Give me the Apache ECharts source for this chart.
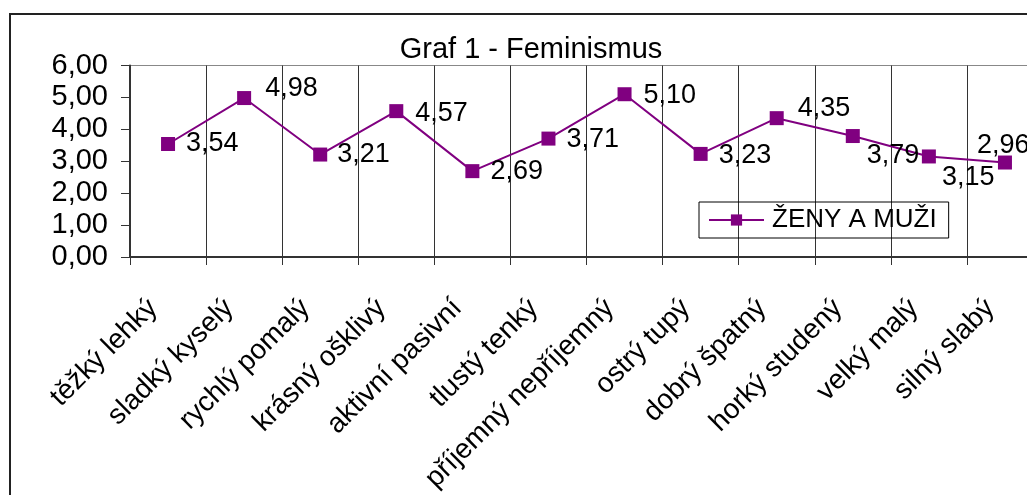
<!DOCTYPE html>
<html>
<head>
<meta charset="utf-8">
<script src="https://cdn.jsdelivr.net/npm/echarts@6/dist/echarts.min.js"></script>
<style>
html,body{margin:0;padding:0;background:#fff;}
#chart{width:1027px;height:495px;}
</style>
</head>
<body>
<div id="chart"></div>
<script>
const categories = ['těžký lehký','sladký kyselý','rychlý pomalý','krásný ošklivý','aktivní pasivní','tlustý tenký','příjemný nepříjemný','ostrý tupý','dobrý špatný','horký studený','velký malý','silný slabý'];
const seriesName = 'ŽENY A MUŽI';
const values = [3.54, 4.98, 3.21, 4.57, 2.69, 3.71, 5.10, 3.23, 4.35, 3.79, 3.15, 2.96];
const titleText = 'Graf 1 - Feminismus';

const FONT = '"Liberation Sans", Arial, sans-serif';
const fmt = v => Number(v).toFixed(2).replace('.', ',');
// label nudges (presentation only)
const labelNudge = [[0,0],[3,-10],[-1,0],[1,2],[0,0],[0,1],[1,1],[0,2],[3,-10],[-4,20],[-5,21],[-46,-17]];

const chart = echarts.init(document.getElementById('chart'), null, {renderer:'canvas'});
chart.setOption({
  backgroundColor:'#fff',
  animation:false,
  textStyle:{fontFamily:FONT},
  title:{
    text:titleText, left:526, top:30, textAlign:'center',
    textStyle:{fontFamily:FONT, fontSize:29, fontWeight:'normal', color:'#000'}
  },
  graphic:[{
    type:'rect', silent:true, z:-1,
    shape:{x:10, y:14, width:1200, height:700},
    style:{fill:'none', stroke:'#222', lineWidth:2}
  }],
  legend:{
    data:[seriesName], left:699, top:202,
    itemWidth:55, itemHeight:14, itemGap:0,
    padding:[5,12,5,9], borderColor:'#000', borderWidth:1,
    textStyle:{fontFamily:FONT, fontSize:26, color:'#000', padding:[0,0,0,3]}
  },
  grid:{left:130, top:65.5, width:913, height:191.5, show:true, borderColor:'#888', borderWidth:1, containLabel:false, outerBoundsMode:'none'},
  xAxis:{
    type:'category', data:categories, boundaryGap:true,
    axisLine:{lineStyle:{color:'#333', width:2}},
    axisTick:{show:true, interval:0, length:8, lineStyle:{color:'#333'}},
    splitLine:{show:true, interval:0, lineStyle:{color:'#333', width:1}},
    axisLabel:{interval:0, rotate:45, fontSize:28, color:'#000', fontFamily:FONT, margin:32, padding:[0,21,0,0], hideOverlap:false}
  },
  yAxis:{
    type:'value', min:0, max:6, interval:1,
    axisLine:{show:true, lineStyle:{color:'#333', width:2}},
    axisTick:{show:true, length:9, lineStyle:{color:'#333'}},
    splitLine:{show:false},
    axisLabel:{fontSize:29, color:'#000', fontFamily:FONT, margin:22, formatter:fmt}
  },
  series:[{
    name:seriesName, type:'line',
    data:values.map((v,i)=>({value:v, label:{offset:labelNudge[i]}})),
    symbol:'rect', symbolSize:14,
    itemStyle:{color:'#800080'},
    lineStyle:{color:'#800080', width:2},
    label:{show:true, position:'right', distance:11, fontSize:27, color:'#000', fontFamily:FONT,
      formatter:p=>fmt(p.value)}
  }]
});
</script>
</body>
</html>
